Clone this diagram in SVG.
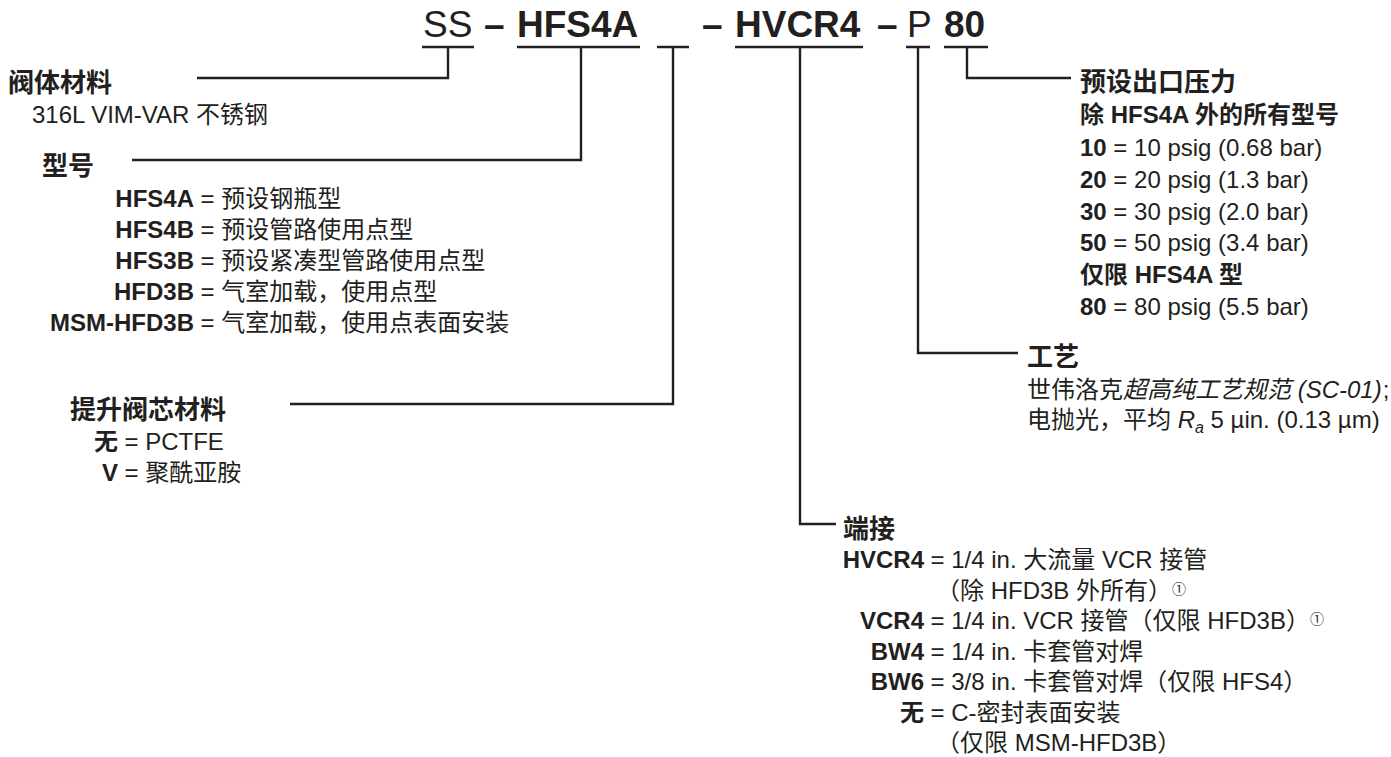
<svg xmlns="http://www.w3.org/2000/svg" width="1391" height="757" viewBox="0 0 1391 757">
<style>
text{font-family:"Liberation Sans",Arial,"Noto Sans CJK SC",sans-serif;fill:#231f20;font-size:24px}
.h{font-size:26px;font-weight:bold}
.b{font-weight:bold}
.hd{font-size:37px}
.i{font-style:italic}
.e{text-anchor:end}
.n{font-size:14px}
.c{stroke:#231f20;stroke-width:2.4;fill:none}
</style>
<rect width="1391" height="757" fill="#ffffff"/>
<g id="code">
<text class="hd" x="423" y="37">SS</text>
<text class="hd b" x="484" y="37">–</text>
<text class="hd b" x="517" y="37">HFS4A</text>
<text class="hd b" x="702" y="37">–</text>
<text class="hd b" x="735" y="37">HVCR4</text>
<text class="hd b" x="877" y="37">–</text>
<text class="hd" x="907" y="37">P</text>
<text class="hd b" x="944" y="37">80</text>
</g>
<g id="connectors" class="c">
<path d="M422,47H474M448,47V78H197"/>
<path d="M517,47H640M581,47V160H132"/>
<path d="M657,47H689M673,47V404H290"/>
<path d="M735,47H863M800,47V524H836"/>
<path d="M906,47H930M918,47V353H1018"/>
<path d="M944,47H988M967,47V78H1071"/>
</g>
<g id="body-material">
<text class="h" x="8" y="92">阀体材料</text>
<text x="32" y="123">316L VIM-VAR 不锈钢</text>
</g>
<g id="model">
<text class="h" x="42" y="175">型号</text>
<text class="b e" x="194" y="207">HFS4A</text><text x="200.5" y="207">= 预设钢瓶型</text>
<text class="b e" x="194" y="238">HFS4B</text><text x="200.5" y="238">= 预设管路使用点型</text>
<text class="b e" x="194" y="269">HFS3B</text><text x="200.5" y="269">= 预设紧凑型管路使用点型</text>
<text class="b e" x="194" y="300">HFD3B</text><text x="200.5" y="300">= 气室加载，使用点型</text>
<text class="b e" x="194" y="331">MSM-HFD3B</text><text x="200.5" y="331">= 气室加载，使用点表面安装</text>
</g>
<g id="poppet-material">
<text class="h" x="70" y="419">提升阀芯材料</text>
<text class="b e" x="118" y="450">无</text><text x="124.5" y="450">= PCTFE</text>
<text class="b e" x="118" y="481">V</text><text x="124.5" y="481">= 聚酰亚胺</text>
</g>
<g id="end-connections">
<text class="h" x="843" y="538">端接</text>
<text class="b e" x="924" y="568">HVCR4</text><text x="930.5" y="568">= 1/4 in. 大流量 VCR 接管</text>
<text x="936" y="598.5">（除 HFD3B 外所有）<tspan class="n" dy="-5">①</tspan></text>
<text class="b e" x="924" y="629">VCR4</text><text x="930.5" y="629">= 1/4 in. VCR 接管（仅限 HFD3B）<tspan class="n" dy="-5">①</tspan></text>
<text class="b e" x="924" y="659.5">BW4</text><text x="930.5" y="659.5">= 1/4 in. 卡套管对焊</text>
<text class="b e" x="924" y="690">BW6</text><text x="930.5" y="690">= 3/8 in. 卡套管对焊（仅限 HFS4）</text>
<text class="b e" x="924" y="720.5">无</text><text x="930.5" y="720.5">= C-密封表面安装</text>
<text x="936" y="751">（仅限 MSM-HFD3B）</text>
</g>
<g id="process">
<text class="h" x="1027" y="366">工艺</text>
<text x="1027" y="398">世伟洛克<tspan class="i">超高纯工艺规范 (SC-01)</tspan><tspan dx="1">;</tspan></text>
<text x="1027" y="428">电抛光，平均 <tspan class="i">R</tspan><tspan class="i" font-size="16" dy="5">a</tspan><tspan dy="-5"> 5 µin. (0.13 µm)</tspan></text>
</g>
<g id="pressure">
<text class="h" x="1080" y="91">预设出口压力</text>
<text class="b" x="1080" y="123">除 HFS4A 外的所有型号</text>
<text x="1080" y="156"><tspan class="b">10</tspan> = 10 psig (0.68 bar)</text>
<text x="1080" y="188"><tspan class="b">20</tspan> = 20 psig (1.3 bar)</text>
<text x="1080" y="219.5"><tspan class="b">30</tspan> = 30 psig (2.0 bar)</text>
<text x="1080" y="251"><tspan class="b">50</tspan> = 50 psig (3.4 bar)</text>
<text class="b" x="1080" y="283">仅限 HFS4A 型</text>
<text x="1080" y="314.5"><tspan class="b">80</tspan> = 80 psig (5.5 bar)</text>
</g>
</svg>
